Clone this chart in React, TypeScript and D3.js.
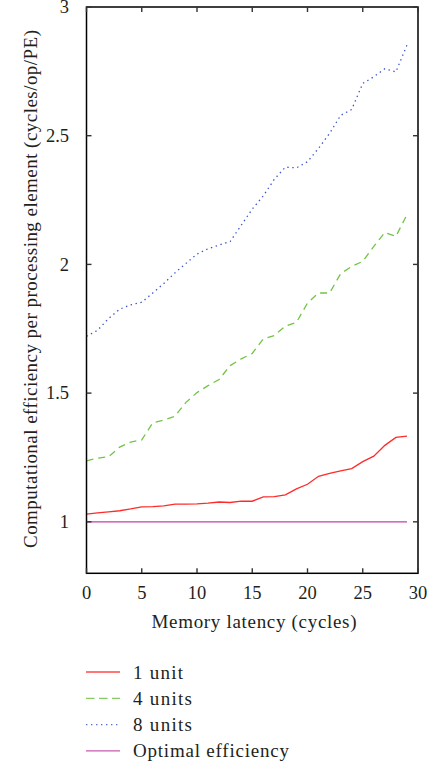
import React from "react";
import * as d3 from "d3";

const latency = d3.range(0, 30);
const oneUnit = [1.030, 1.035, 1.039, 1.043, 1.050, 1.058, 1.059, 1.062, 1.069, 1.069, 1.070, 1.073, 1.077, 1.075, 1.080, 1.080, 1.097, 1.098, 1.105, 1.128, 1.146, 1.177, 1.188, 1.198, 1.207, 1.234, 1.255, 1.297, 1.328, 1.333];
const fourUnits = [1.237, 1.247, 1.253, 1.290, 1.310, 1.318, 1.385, 1.395, 1.410, 1.464, 1.502, 1.529, 1.553, 1.607, 1.633, 1.654, 1.711, 1.724, 1.760, 1.775, 1.850, 1.889, 1.889, 1.964, 1.992, 2.012, 2.070, 2.124, 2.109, 2.193];
const eightUnits = [1.721, 1.744, 1.790, 1.826, 1.843, 1.853, 1.889, 1.926, 1.967, 2.004, 2.040, 2.061, 2.075, 2.089, 2.152, 2.215, 2.266, 2.331, 2.378, 2.375, 2.399, 2.451, 2.509, 2.579, 2.602, 2.703, 2.729, 2.760, 2.748, 2.852];
const optimal = latency.map(() => 1);

const xTicks = [0, 5, 10, 15, 20, 25, 30];
const yTicks = [1, 1.5, 2, 2.5, 3];

const seriesNames = ["1 unit", "4 units", "8 units", "Optimal efficiency"];
const legendWidths = [50, 59, 59, 156];
const seriesColors = ["#ff2a2a", "#72c447", "#3a55c8", "#c23fa6"];
const seriesDash = ["none", "7,5", "1.4,3.6", "none"];
const seriesData = [oneUnit, fourUnits, eightUnits, optimal];

const FONT = "Liberation Serif, DejaVu Serif, serif";

export default function App() {
  const left = 86.5, right = 418, top = 7, bottom = 573.3;
  const x = d3.scaleLinear().domain([0, 30]).range([left, right]);
  const y = d3.scaleLinear().domain([0.8, 3]).range([bottom, top]);
  const line = d3.line<number>().x((_, i) => x(latency[i])).y((d) => y(d));
  const tickLen = 5;
  const textColor = "#231f20";
  const ts: React.CSSProperties = { fontFamily: FONT };

  const order = [3, 0, 1, 2];

  return (
    <svg width={436} height={767} style={{ position: "absolute", left: 0, top: 0, background: "#fff" }}>
      <rect x={0} y={0} width={436} height={767} fill="#fff" />
      {order.map((k) => (
        <path key={k} d={line(seriesData[k]) || ""} fill="none" stroke={seriesColors[k]} strokeWidth={1.3} strokeDasharray={seriesDash[k]} />
      ))}
      <rect x={left} y={top} width={right - left} height={bottom - top} fill="none" stroke="#000" strokeWidth={1.5} />
      {xTicks.map((t) => (
        <g key={"x" + t}>
          <line x1={x(t)} x2={x(t)} y1={bottom} y2={bottom - tickLen} stroke="#333" strokeWidth={1.4} />
          <line x1={x(t)} x2={x(t)} y1={top} y2={top + tickLen} stroke="#333" strokeWidth={1.4} />
          <text x={x(t)} y={599} textAnchor="middle" fontSize={18.5} fill={textColor} style={ts}>{t}</text>
        </g>
      ))}
      {yTicks.map((t) => (
        <g key={"y" + t}>
          <line x1={left} x2={left + tickLen} y1={y(t)} y2={y(t)} stroke="#333" strokeWidth={1.4} />
          <line x1={right} x2={right - tickLen} y1={y(t)} y2={y(t)} stroke="#333" strokeWidth={1.4} />
          <text x={69} y={y(t) + 6.3} textAnchor="end" fontSize={18.5} fill={textColor} style={ts}>{t}</text>
        </g>
      ))}
      <text x={254} y={628} textAnchor="middle" fontSize={19} fill={textColor} style={ts} textLength={205} lengthAdjust="spacing">Memory latency (cycles)</text>
      <text transform={`translate(37,289) rotate(-90)`} textAnchor="middle" fontSize={19} fill={textColor} style={ts} textLength={518} lengthAdjust="spacing">
        Computational efficiency per processing element (cycles/op/PE)
      </text>
      {seriesNames.map((name, i) => {
        const ly = 672 + i * 26.3;
        return (
          <g key={name}>
            <line x1={86} x2={120} y1={ly} y2={ly} stroke={seriesColors[i]} strokeWidth={1.3} strokeDasharray={i === 1 ? "8.5,4.5" : i === 2 ? "1.4,3.6" : "none"} opacity={0.85} />
            <text x={133} y={ly + 6.5} fontSize={19} fill={textColor} style={ts} textLength={legendWidths[i]} lengthAdjust="spacing">{name}</text>
          </g>
        );
      })}
    </svg>
  );
}
